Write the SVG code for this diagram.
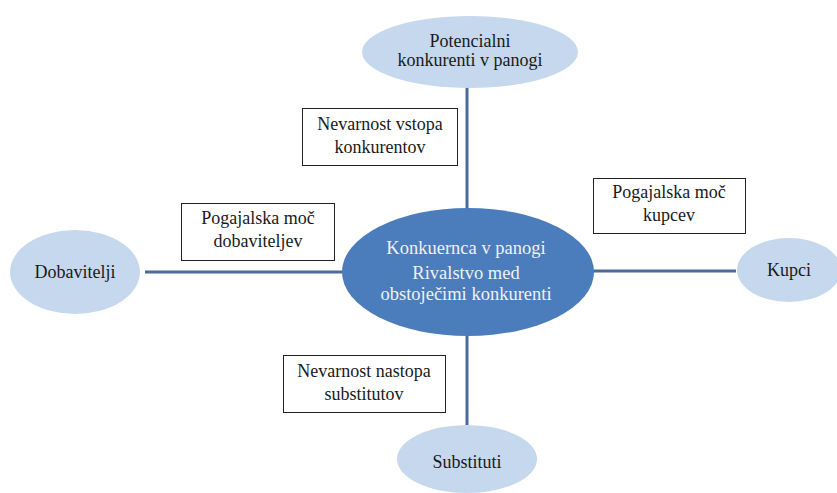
<svg xmlns="http://www.w3.org/2000/svg" width="837" height="493" viewBox="0 0 837 493">
  <style>
    text { font-family: "Liberation Serif", "Times New Roman", serif; font-size: 18px; fill: #1a1a1a; text-anchor: middle; }
    .outer { fill: #c6d8ee; }
    .core { fill: #4b7cbb; }
    .core-text { fill: #eef2f8; font-size: 18.5px; }
    .label { fill: #ffffff; stroke: #222222; stroke-width: 1; }
    .link { stroke: #4a6c9c; stroke-width: 3; fill: none; }
  </style>
  <rect width="837" height="493" fill="#ffffff"/>

  <g id="connectors">
    <line class="link" x1="467" y1="86" x2="467" y2="212"/>
    <line class="link" x1="467" y1="334" x2="467" y2="427"/>
    <line class="link" x1="145" y1="272" x2="344" y2="272"/>
    <line class="link" x1="592" y1="271" x2="736" y2="271"/>
  </g>

  <g id="potencialni">
    <ellipse class="outer" cx="470" cy="52" rx="108" ry="36"/>
    <text x="470" y="47">Potencialni</text>
    <text x="470" y="66">konkurenti v panogi</text>
  </g>

  <g id="dobavitelji">
    <ellipse class="outer" cx="75" cy="272" rx="65" ry="42"/>
    <text x="75" y="278">Dobavitelji</text>
  </g>

  <g id="kupci">
    <ellipse class="outer" cx="789" cy="270" rx="52" ry="32"/>
    <text x="789" y="276">Kupci</text>
  </g>

  <g id="substituti">
    <ellipse class="outer" cx="467" cy="459" rx="70" ry="34"/>
    <text x="467" y="468">Substituti</text>
  </g>

  <g id="konkurenca">
    <ellipse class="core" cx="468" cy="272" rx="126" ry="64"/>
    <text class="core-text" x="466" y="254">Konkuernca v panogi</text>
    <text class="core-text" x="466" y="279">Rivalstvo med</text>
    <text class="core-text" x="466" y="300">obstoječimi  konkurenti</text>
  </g>

  <g id="vstop">
    <rect class="label" x="302.5" y="108.5" width="155" height="57"/>
    <text x="380" y="130">Nevarnost vstopa</text>
    <text x="380" y="153">konkurentov</text>
  </g>

  <g id="moc-dobaviteljev">
    <rect class="label" x="181.5" y="203.5" width="153" height="57"/>
    <text x="258" y="224">Pogajalska moč</text>
    <text x="258" y="247">dobaviteljev</text>
  </g>

  <g id="moc-kupcev">
    <rect class="label" x="593.5" y="178.5" width="152" height="55"/>
    <text x="669" y="198">Pogajalska moč</text>
    <text x="669" y="221">kupcev</text>
  </g>

  <g id="nastop">
    <rect class="label" x="283.5" y="355.5" width="162" height="57"/>
    <text x="364" y="377">Nevarnost nastopa</text>
    <text x="364" y="400">substitutov</text>
  </g>
</svg>
